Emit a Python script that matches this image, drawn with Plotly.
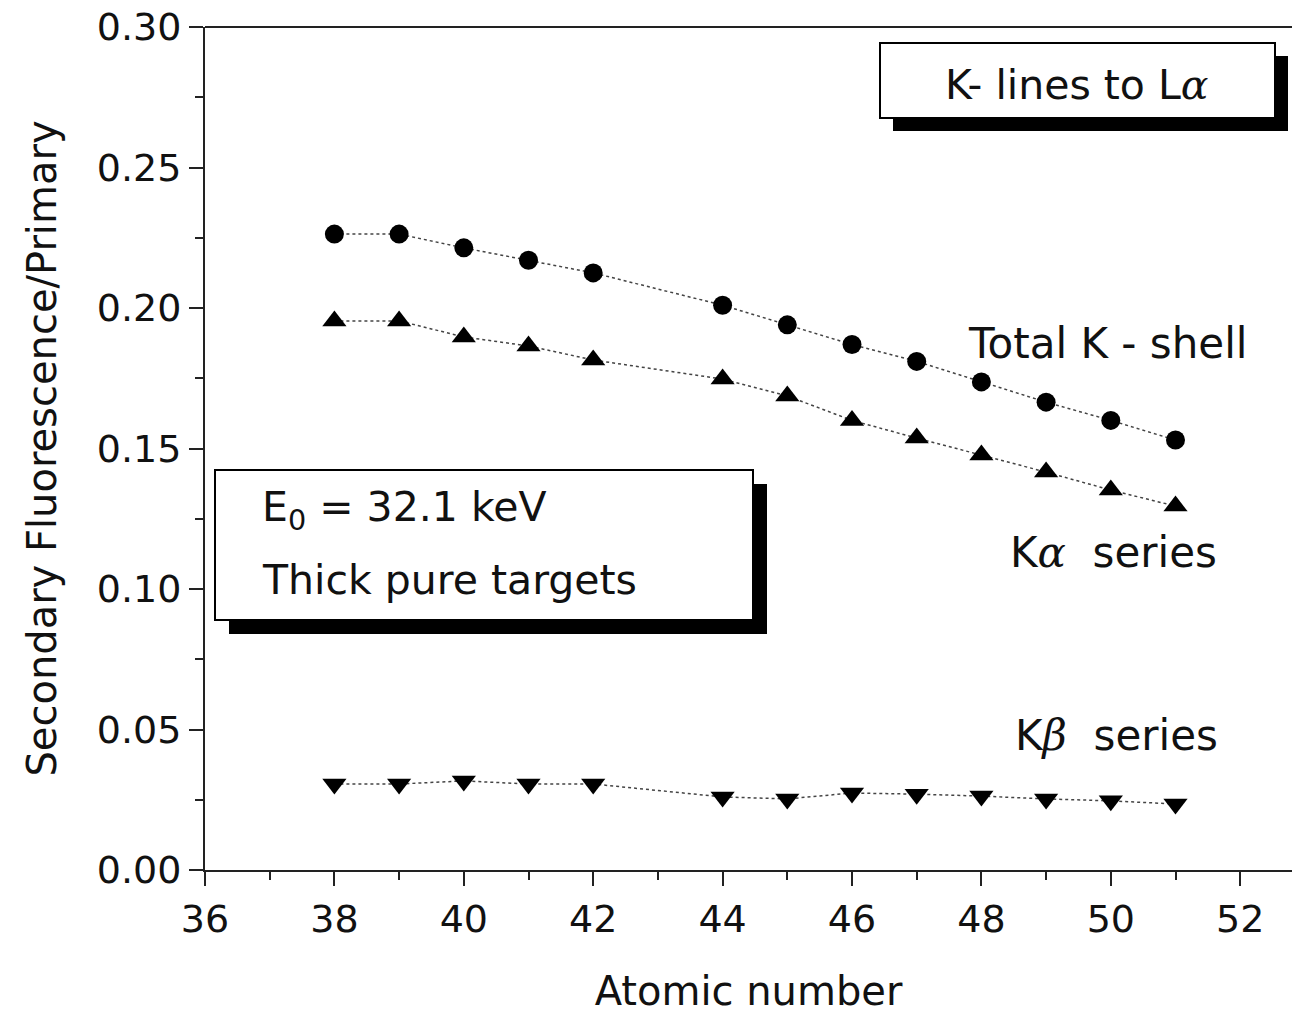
import plotly.graph_objects as go

atomic_number = [38, 39, 40, 41, 42, 44, 45, 46, 47, 48, 49, 50, 51]
total_k = [0.2263, 0.2263, 0.2214, 0.2170, 0.2125, 0.2010, 0.1940, 0.1870, 0.1810, 0.1737, 0.1665, 0.1600, 0.1530]
k_alpha = [0.1954, 0.1954, 0.1897, 0.1865, 0.1815, 0.1747, 0.1687, 0.1600, 0.1537, 0.1477, 0.1416, 0.1352, 0.1295]
k_beta = [0.0306, 0.0306, 0.0317, 0.0306, 0.0306, 0.0260, 0.0253, 0.0274, 0.0270, 0.0263, 0.0253, 0.0246, 0.0235]

x_tickvals = [36, 38, 40, 42, 44, 46, 48, 50, 52]
y_tickvals = [0.00, 0.05, 0.10, 0.15, 0.20, 0.25, 0.30]
y_ticktext = ["0.00", "0.05", "0.10", "0.15", "0.20", "0.25", "0.30"]

W, H = 1292, 1014
L, T, R, B = 205, 27, 0, 144
X0, X1 = 36.0, 36.0 + (W - L - R) / 64.7
Y0, Y1 = 0.0, 0.30

def px(xp):
    return X0 + (xp - L) / (W - L - R) * (X1 - X0)

def py(yp):
    return Y1 - (yp - T) / (H - T - B) * (Y1 - Y0)

FONT = "DejaVu Sans, Liberation Sans, Arial, sans-serif"
GREEK = "font-family:DejaVu Serif;font-style:italic"

fig = go.Figure()
line_style = dict(color="#444", width=1.5, dash="dot")
fig.add_trace(go.Scatter(x=atomic_number, y=total_k, mode="lines+markers",
                         line=line_style, marker=dict(symbol="circle", size=19, color="black"),
                         showlegend=False))
fig.add_trace(go.Scatter(x=atomic_number, y=k_alpha, mode="lines+markers",
                         line=line_style, marker=dict(symbol="triangle-up", size=21, color="black"),
                         showlegend=False))
fig.add_trace(go.Scatter(x=atomic_number, y=k_beta, mode="lines+markers",
                         line=line_style, marker=dict(symbol="triangle-down", size=21, color="black"),
                         showlegend=False))

shapes = []
def box(x0, y0, x1, y1, off):
    shapes.append(dict(type="rect", xref="x", yref="y", x0=px(x0 + off), x1=px(x1 + off),
                       y0=py(y0 + off), y1=py(y1 + off), fillcolor="black", line=dict(width=0), layer="above"))
    shapes.append(dict(type="rect", xref="x", yref="y", x0=px(x0), x1=px(x1),
                       y0=py(y0), y1=py(y1), fillcolor="white", line=dict(color="black", width=2), layer="above"))

box(880, 43, 1275, 118, 13)
box(215, 470, 753, 620, 14)

shapes.append(dict(type="line", xref="paper", yref="paper", x0=0, x1=1, y0=1, y1=1,
                   line=dict(color="#222", width=2)))

def greek(ch):
    return f'<span style="{GREEK}">{ch}</span>'

annotations = [
    dict(x=px(1077), y=py(85), text=f"K- lines to L{greek('α')}", showarrow=False,
         font=dict(size=41, color="#111", family=FONT), xanchor="center", yanchor="middle"),
    dict(x=px(260), y=py(510), text="E<sub>0</sub> = 32.1 keV", showarrow=False,
         font=dict(size=41, color="#111", family=FONT), xanchor="left", yanchor="middle"),
    dict(x=px(260), y=py(580), text="Thick pure targets", showarrow=False,
         font=dict(size=41, color="#111", family=FONT), xanchor="left", yanchor="middle"),
    dict(x=px(966), y=py(343), text="Total K - shell", showarrow=False,
         font=dict(size=42, color="#111", family=FONT), xanchor="left", yanchor="middle"),
    dict(x=px(1008), y=py(552), text=f"K{greek('α')}  series", showarrow=False,
         font=dict(size=42, color="#111", family=FONT), xanchor="left", yanchor="middle"),
    dict(x=px(1013), y=py(735), text=f"K{greek('β')}  series", showarrow=False,
         font=dict(size=42, color="#111", family=FONT), xanchor="left", yanchor="middle"),
]

fig.update_layout(
    width=W, height=H,
    margin=dict(l=L, r=R, t=T, b=B),
    plot_bgcolor="white", paper_bgcolor="white",
    font=dict(family=FONT, color="#111", size=38),
    shapes=shapes, annotations=annotations,
    xaxis=dict(range=[X0, X1], tickmode="array", tickvals=x_tickvals,
               ticks="outside", ticklen=14, tickwidth=2, tickcolor="#222",
               showline=True, linecolor="#222", linewidth=2, showgrid=False, zeroline=False,
               minor=dict(dtick=1, tick0=36, ticks="outside", ticklen=8, tickwidth=2, tickcolor="#222"),
               tickfont=dict(size=38), title=dict(text="Atomic number", font=dict(size=40), standoff=38)),
    yaxis=dict(range=[Y0, Y1], tickmode="array", tickvals=y_tickvals, ticktext=y_ticktext,
               ticks="outside", ticklen=14, tickwidth=2, tickcolor="#222",
               showline=True, linecolor="#222", linewidth=2, showgrid=False, zeroline=False,
               minor=dict(dtick=0.025, tick0=0, ticks="outside", ticklen=8, tickwidth=2, tickcolor="#222"),
               tickfont=dict(size=38),
               title=dict(text="Secondary Fluorescence/Primary", font=dict(size=40), standoff=28)),
)

fig.write_html("out.html")
